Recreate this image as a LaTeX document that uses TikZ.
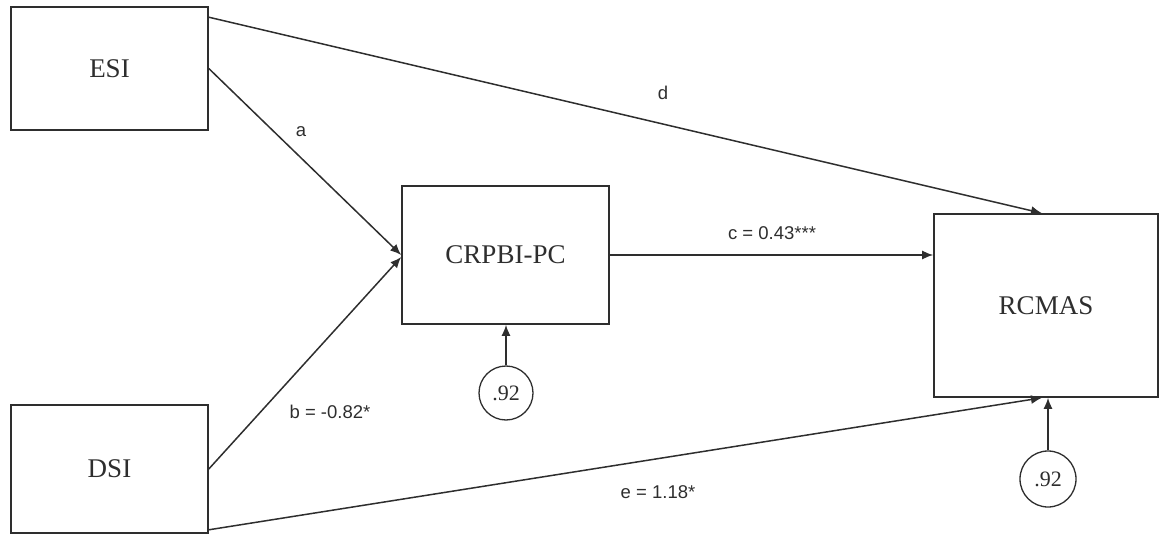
\documentclass[tikz,border=0pt]{standalone}
\usepackage{fontspec}
\setmainfont{Liberation Serif}
\newfontfamily\lblfont{Liberation Sans}
\usetikzlibrary{arrows.meta,calc}
\definecolor{ink}{HTML}{2E2E2E}
\begin{document}
\begin{tikzpicture}[x=1pt,y=-1pt,
  box/.style={draw=ink,line width=1.6pt,rectangle,inner sep=0pt,font=\fontsize{27}{31}\selectfont,text=ink},
  err/.style={draw=ink,line width=1.3pt,circle,minimum size=#1,inner sep=0pt,font=\fontsize{22}{26}\selectfont,text=ink},
  conn/.style={draw=ink,line width=1.5pt,-{Latex[length=11pt,width=9pt]}},
  lbl/.style={font=\lblfont\fontsize{18.5}{22}\selectfont,text=ink,inner sep=0pt}]
\useasboundingbox (0,0) rectangle (1160,535);
\node[box,minimum width=197pt,minimum height=123pt] (ESI) at (109.5,68.5) {ESI};
\node[box,minimum width=197pt,minimum height=128pt] (DSI) at (109.5,469) {DSI};
\node[box,minimum width=207pt,minimum height=138pt] (CRP) at (505.5,255) {CRPBI-PC};
\node[box,minimum width=224pt,minimum height=183pt] (RCM) at (1046,305.5) {RCMAS};
\node[err=54pt] (e1) at (506,393) {.92};
\node[err=56pt] (e2) at (1048,479) {.92};
\draw[conn] ([yshift=-11pt]ESI.north east) -- ([xshift=-4pt]RCM.north);
\draw[conn] (ESI.east) -- (CRP.west);
\draw[conn] (DSI.east) -- ([yshift=-2pt]CRP.west);
\draw[conn] ([yshift=4pt]DSI.south east) -- ([xshift=-4pt]RCM.south);
\draw[conn] (CRP.east) -- (CRP.east -| RCM.west);
\draw[conn] (e1.north) -- (e1.north |- CRP.south);
\draw[conn] (e2.north) -- (e2.north |- RCM.south);
\node[lbl] (la) at (301,132) {a};
\node[lbl] (lb) at (330,412) {b = -0.82*};
\node[lbl] (lc) at (772,233) {c = 0.43***};
\node[lbl] (ld) at (663,93) {d};
\node[lbl] (le) at (658,492) {e = 1.18*};
\end{tikzpicture}
\end{document}
